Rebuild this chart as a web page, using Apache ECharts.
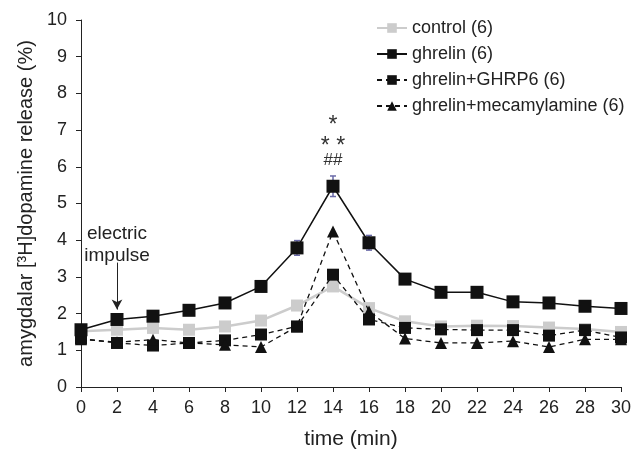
<!DOCTYPE html>
<html>
<head>
<meta charset="utf-8">
<script src="https://cdn.jsdelivr.net/npm/echarts@6/dist/echarts.min.js"></script>
<style>
  html, body { margin: 0; padding: 0; background: #fff; }
  #main { width: 642px; height: 450px; }
</style>
</head>
<body>
<div id="main"></div>
<script>
const times = [0, 2, 4, 6, 8, 10, 12, 14, 16, 18, 20, 22, 24, 26, 28, 30];
const control = [1.52, 1.56, 1.61, 1.56, 1.65, 1.81, 2.22, 2.74, 2.15, 1.79, 1.65, 1.67, 1.66, 1.62, 1.58, 1.5];
const ghrelin = [1.56, 1.84, 1.93, 2.09, 2.29, 2.74, 3.79, 5.47, 3.93, 2.94, 2.58, 2.58, 2.32, 2.29, 2.2, 2.14];
const ghrelinGhrp6 = [1.32, 1.2, 1.13, 1.2, 1.27, 1.43, 1.65, 3.06, 1.84, 1.61, 1.57, 1.55, 1.55, 1.4, 1.55, 1.35];
const ghrelinMec = [1.3, 1.22, 1.29, 1.2, 1.15, 1.09, 1.65, 4.24, 2.06, 1.32, 1.2, 1.2, 1.25, 1.09, 1.3, 1.3];
// error bars for ghrelin (time, sem)
const ghrelinErr = [[10, 0.12], [12, 0.2], [14, 0.28], [16, 0.2], [18, 0.14]];

const font = 'Liberation Sans, Arial, Helvetica, sans-serif';
const chart = echarts.init(document.getElementById('main'));

const pairs = arr => arr.map((v, i) => [times[i], v]);

const option = {
    backgroundColor: '#fff',
    animation: false,
    textStyle: { fontFamily: font },
    grid: { left: 81, right: 21, top: 20, bottom: 63, outerBoundsMode: 'none' },
    legend: {
        orient: 'vertical',
        left: 371,
        top: 13,
        itemGap: 6,
        itemWidth: 30,
        itemHeight: 12,
        textStyle: { fontSize: 18, lineHeight: 20, color: '#222', fontFamily: font },
        data: ['control (6)', 'ghrelin (6)', 'ghrelin+GHRP6 (6)', 'ghrelin+mecamylamine (6)']
    },
    xAxis: {
        type: 'value',
        min: 0, max: 30, interval: 2,
        name: 'time (min)',
        nameLocation: 'middle',
        nameGap: 42,
        nameTextStyle: { fontSize: 21, color: '#222', fontFamily: font },
        axisLine: { lineStyle: { color: '#222', width: 1 } },
        axisTick: { length: 5, lineStyle: { color: '#222' } },
        axisLabel: { fontSize: 18, color: '#222', margin: 12, fontFamily: font },
        splitLine: { show: false }
    },
    yAxis: {
        type: 'value',
        min: 0, max: 10, interval: 1,
        name: 'amygdalar [³H]dopamine release (%)',
        nameLocation: 'middle',
        nameGap: 34,
        nameTextStyle: { fontSize: 20, color: '#222', fontFamily: font },
        axisLine: { show: true, lineStyle: { color: '#222', width: 1 } },
        axisTick: { show: true, length: 5, lineStyle: { color: '#222' } },
        axisLabel: { fontSize: 18, color: '#222', margin: 14, fontFamily: font },
        splitLine: { show: false }
    },
    series: [
        {
            name: 'control (6)',
            type: 'line',
            data: pairs(control),
            symbol: 'rect',
            symbolSize: 12,
            z: 2,
            lineStyle: { color: '#cccccc', width: 2.5 },
            itemStyle: { color: '#cccccc' }
        },
        {
            name: 'ghrelin+GHRP6 (6)',
            type: 'line',
            data: pairs(ghrelinGhrp6),
            symbol: 'rect',
            symbolSize: 12,
            z: 3,
            lineStyle: { color: '#111', width: 1.3, type: [5, 4] },
            itemStyle: { color: '#111' }
        },
        {
            name: 'ghrelin+mecamylamine (6)',
            type: 'line',
            data: pairs(ghrelinMec),
            symbol: 'triangle',
            symbolSize: 12,
            z: 3,
            lineStyle: { color: '#111', width: 1.3, type: [5, 4] },
            itemStyle: { color: '#111' },
            markLine: {
                silent: true,
                symbol: ['none', 'arrow'],
                symbolSize: [8, 10],
                lineStyle: { color: '#222', width: 1, type: 'solid' },
                label: {
                    show: true,
                    position: 'start',
                    formatter: 'electric\nimpulse',
                    fontSize: 19,
                    lineHeight: 22,
                    color: '#222',
                    fontFamily: font,
                    distance: -4
                },
                data: [[{ coord: [2, 3.39] }, { coord: [2, 2.11] }]]
            }
        },
        {
            name: 'ghrelin (6)',
            type: 'line',
            data: pairs(ghrelin).map((p, i) => i === 7 ? {
                value: p,
                label: {
                    show: true,
                    position: 'top',
                    distance: 9,
                    formatter: '{a1|*}\n{a2|* *}\n{b|##}',
                    color: '#333',
                    fontFamily: font,
                    rich: {
                        a1: { fontSize: 23, lineHeight: 33, color: '#333', fontFamily: font },
                        a2: { fontSize: 23, lineHeight: 9, color: '#333', fontFamily: font },
                        b: { fontSize: 17, lineHeight: 20, color: '#333', fontFamily: font }
                    }
                }
            } : p),
            symbol: 'rect',
            symbolSize: 13,
            z: 5,
            lineStyle: { color: '#111', width: 1.5 },
            itemStyle: { color: '#111' }
        },
        {
            name: 'err',
            type: 'custom',
            z: 4,
            silent: true,
            data: ghrelinErr.map(e => {
                const v = ghrelin[times.indexOf(e[0])];
                return [e[0], v - e[1], v + e[1]];
            }),
            renderItem: function (params, api) {
                const lo = api.coord([api.value(0), api.value(1)]);
                const hi = api.coord([api.value(0), api.value(2)]);
                const w = 3;
                const style = { stroke: '#6a6aa8', lineWidth: 1.5 };
                return {
                    type: 'group',
                    children: [
                        { type: 'line', shape: { x1: lo[0], y1: lo[1], x2: hi[0], y2: hi[1] }, style: style },
                        { type: 'line', shape: { x1: hi[0] - w, y1: hi[1], x2: hi[0] + w, y2: hi[1] }, style: style },
                        { type: 'line', shape: { x1: lo[0] - w, y1: lo[1], x2: lo[0] + w, y2: lo[1] }, style: style }
                    ]
                };
            }
        }
    ]
};
chart.setOption(option);
</script>
</body>
</html>
